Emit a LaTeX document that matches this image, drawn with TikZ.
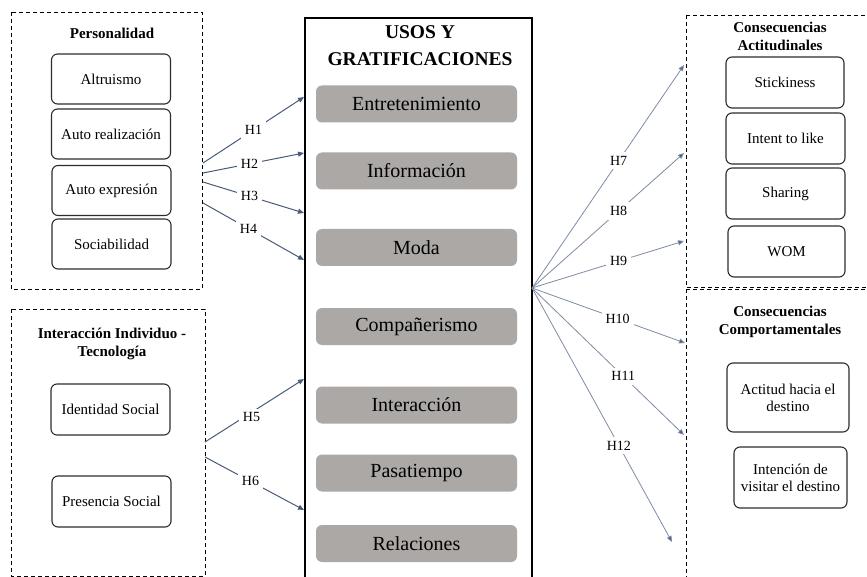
\documentclass[tikz,border=0pt]{standalone}
\usepackage{fontspec}
\setmainfont{Liberation Serif}
\usetikzlibrary{arrows.meta}
\definecolor{arrowc}{RGB}{72,92,122}
\definecolor{arrowl}{RGB}{125,140,165}
\definecolor{greyfill}{RGB}{172,168,166}
\definecolor{boxline}{RGB}{45,45,45}
\tikzset{
  grp/.style={draw=black, line width=0.9pt, dash pattern=on 4pt off 3pt},
  wbox/.style={draw=boxline, line width=1.1pt, rounded corners=6pt, fill=white,
    minimum width=119pt, minimum height=50pt, align=center, inner sep=2pt,
    font=\fontsize{15}{17}\selectfont},
  gbox/.style={fill=greyfill, rounded corners=6pt, minimum width=201pt,
    minimum height=37pt, font=\fontsize{20}{22}\selectfont, inner sep=0pt},
  ttl/.style={font=\bfseries\fontsize{15}{18}\selectfont, align=center, inner sep=0pt},
  hlab/.style={fill=white, font=\fontsize{14}{16}\selectfont, inner sep=4pt},
  arl/.style={draw=arrowc, line width=1pt, -{Triangle[length=6pt,width=5pt]}},
  arr/.style={draw=arrowl, line width=0.8pt, -{Triangle[length=6pt,width=5pt,fill=arrowc]}},
}
\begin{document}
\begin{tikzpicture}[x=1pt,y=-1pt]
\useasboundingbox (0,0) rectangle (867,577);
\clip (0,0) rectangle (867,577);
\fill[white] (0,0) rectangle (867,577);

% ---------- Personalidad ----------
\draw[grp] (11,12) rectangle (202,289);
\node[ttl] (tpers) at (112,33) {Personalidad};
\node[wbox] (alt) at (111,79) {Altruismo};
\node[wbox] (autor) at (111,134) {Auto realización};
\node[wbox] (autoe) at (111.5,190.5) {Auto expresión};
\node[wbox] (soc) at (111.5,244) {Sociabilidad};

% ---------- Interaccion ----------
\draw[grp] (11,309) rectangle (205,576);
\node[ttl] (tint) at (112,344) {Interacción Individuo -\\Tecnología};
\node[wbox, minimum height=51pt] (ident) at (110.5,409.5) {Identidad Social};
\node[wbox, minimum height=51pt] (pres) at (111.5,501.5) {Presencia Social};

% ---------- Usos y gratificaciones ----------
\draw[black, line width=1.3pt] (305,590) -- (305,18) -- (532,18) -- (532,590);
\node[font=\bfseries\fontsize{19.5}{27}\selectfont, align=center, inner sep=0pt] (tusos) at (420,45.5) {USOS Y\\GRATIFICACIONES};
\node[gbox] (ent) at (416.5,104) {Entretenimiento};
\node[gbox] (inf) at (416.5,171) {Información};
\node[gbox] (moda) at (416.5,247.5) {Moda};
\node[gbox] (comp) at (416.5,326.5) {Compañerismo};
\node[gbox] (inter) at (416.5,405) {Interacción};
\node[gbox] (pasa) at (416.5,473) {Pasatiempo};
\node[gbox] (rel) at (416.5,543.5) {Relaciones};

% ---------- Consecuencias ----------
\draw[grp] (686,15) -- (880,15);
\draw[grp] (686,15) -- (686,287) -- (880,287);
\draw[grp] (686,289) -- (880,289);
\draw[grp] (686,289) -- (686,590);
\node[ttl] (tact) at (780,36) {Consecuencias\\Actitudinales};
\node[wbox, minimum width=118pt, minimum height=51pt] (stick) at (785,82.5) {Stickiness};
\node[wbox, minimum height=51pt] (intent) at (785.5,138.5) {Intent to like};
\node[wbox, minimum height=51pt] (share) at (785.5,193.5) {Sharing};
\node[wbox, minimum width=117pt, minimum height=51pt] (wom) at (786.5,251.5) {WOM};
\node[ttl] (tcomp) at (780,321.5) {Consecuencias\\Comportamentales};
\node[wbox, minimum width=122pt, minimum height=69pt] (actit) at (788,397.5) {Actitud hacia el\\destino};
\node[wbox, minimum width=113pt, minimum height=61pt] (intenc) at (790.5,477.5) {Intención de\\visitar el destino};

% ---------- connector points ----------
\coordinate (s1) at (203,163);
\coordinate (s2) at (203,173);
\coordinate (s3) at (203,182);
\coordinate (s4) at (203,203);
\coordinate (e1) at (304,97);
\coordinate (e2) at (304,153);
\coordinate (e3) at (304,213);
\coordinate (e4) at (304,260);
\coordinate (s5) at (205,442);
\coordinate (s6) at (205,457);
\coordinate (e5) at (304,379);
\coordinate (e6) at (304,510);
\coordinate (hub) at (532,288);
\coordinate (e7) at (684,65);
\coordinate (e8) at (684,153);
\coordinate (e9) at (684,241);
\coordinate (e10) at (685,343);
\coordinate (e11) at (684,435);
\coordinate (e12) at (672,542);

\draw[arl] (s1) -- node[hlab, pos=0.5] {H1} (e1);
\draw[arl] (s2) -- node[hlab, pos=0.46] {H2} (e2);
\draw[arl] (s3) -- node[hlab, pos=0.46] {H3} (e3);
\draw[arl] (s4) -- node[hlab, pos=0.45] {H4} (e4);
\draw[arl] (s5) -- node[hlab, pos=0.47, yshift=-5pt] {H5} (e5);
\draw[arl] (s6) -- node[hlab, pos=0.46] {H6} (e6);

\draw[arr] (hub) -- node[hlab, pos=0.57] {H7} (e7);
\draw[arr] (hub) -- node[hlab, pos=0.57] {H8} (e8);
\draw[arr] (hub) -- node[hlab, pos=0.57] {H9} (e9);
\draw[arr] (hub) -- node[hlab, pos=0.56] {H10} (e10);
\draw[arr] (hub) -- node[hlab, pos=0.6] {H11} (e11);
\draw[arr] (hub) -- node[hlab, pos=0.62] {H12} (e12);
\end{tikzpicture}
\end{document}
